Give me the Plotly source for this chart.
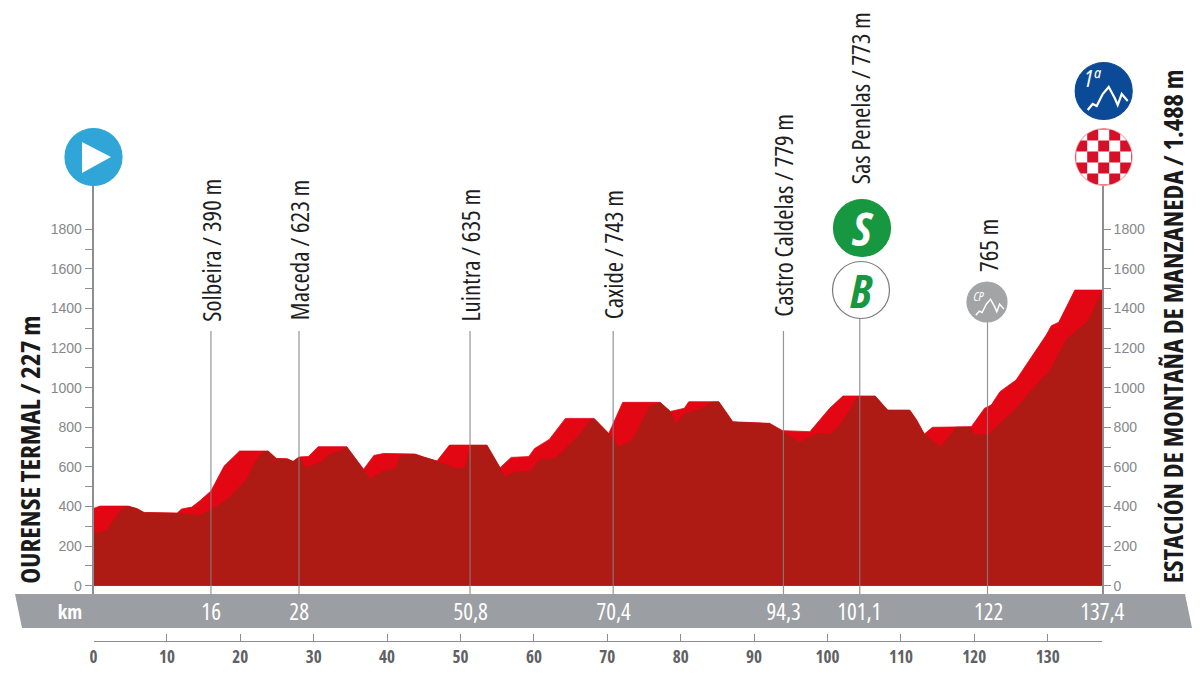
import numpy as np
import plotly.graph_objects as go

# top of the profile, km and metres
top_km = [0, 0.9, 4.7, 5.9, 6.9, 11.4, 12, 13.4, 14.5, 16, 17.8, 19.9, 23.8, 24.9, 26.4, 27.2, 28, 29.3, 30.6,
          34.5, 36.8, 38.2, 39.5, 41.8, 43.8, 44.9, 46.8, 48.5, 53.6, 55.4, 56.9, 59.3, 60.1, 62.1, 64.3, 68.2,
          70.2, 72.1, 77.2, 78.6, 80.5, 81.1, 85.2, 87.1, 89.8, 92.1, 93.9, 97.6, 100.3, 102.1, 106.5, 108.2,
          111.2, 112.1, 113.2, 114.3, 119.6, 121.4, 122.3, 123.5, 125.7, 127.5, 129.8, 130.5, 131.5, 133.7, 137.4]
top_elev = [390, 402, 402, 390, 370, 367, 387, 397, 429, 478, 604, 680, 680, 643, 641, 628, 650, 653, 702,
            702, 588, 658, 668, 665, 665, 651, 630, 710, 710, 596, 648, 652, 693, 739, 845, 845,
            769, 926, 926, 880, 896, 929, 929, 828, 823, 820, 783, 778, 896, 958, 958, 887,
            887, 840, 766, 800, 803, 896, 912, 980, 1039, 1140, 1266, 1313, 1330, 1493, 1493]

# where the dark fill starts, the bright red band sits between this and the top
dark_km = [0, 1.8, 3.8, 4.7, 5.9, 6.9, 11.4, 14.5, 16.3, 18.6, 20.9, 22, 23.2, 23.8, 24.9, 26.4, 27.2, 28, 28.9,
           30.8, 32, 34.3, 34.5, 36.8, 37.7, 39.5, 41.1, 41.8, 43.8, 44.9, 46.8, 49.4, 50.6, 51.4, 53.6, 55.4,
           56, 57.5, 59.6, 60.7, 63, 65.7, 67.8, 68.2, 70.2, 71.6, 73.4, 75.7, 77.2, 78.6, 79.4, 80.5, 83, 84.2,
           85.2, 87.1, 89.8, 92.1, 93.9, 96.2, 98.6, 100.4, 102, 104.1, 106.5, 108.2, 111.2, 112.1, 113.2, 115.4,
           117.6, 119.6, 120, 121.8, 123.5, 125.7, 128, 130.3, 132.6, 135.4, 137.4]
dark_elev = [264, 281, 390, 402, 390, 370, 367, 357, 390, 449, 542, 626, 680, 680, 643, 641, 628, 650, 598,
             621, 660, 693, 702, 588, 542, 581, 593, 660, 665, 651, 630, 593, 598, 710, 710, 596,
             550, 576, 581, 635, 648, 744, 840, 845, 769, 702, 736, 904, 926, 880, 820, 870, 896, 929,
             929, 828, 823, 820, 778, 724, 770, 766, 828, 955, 958, 887, 887, 840, 766, 702,
             803, 803, 766, 761, 820, 896, 997, 1089, 1249, 1333, 1485]

elev_ticks = list(range(0, 1900, 100))
elev_text = [str(v) if v % 200 == 0 else "" for v in elev_ticks]
km_ticks = list(range(0, 140, 10)) + [137.4]
km_text = ["<b>{}</b>".format(v) for v in range(0, 140, 10)] + [""]

# places: name, position along the axis, middle of the text, top of the leader
place_names = ["Solbeira / 390 m", "Maceda / 623 m", "Luintra / 635 m", "Caxide / 743 m", "Castro Caldelas / 779 m",
               "Sas Penelas / 773 m", "765 m"]
place_km = [16, 28, 51.3, 70.8, 94, 104.4, 121.8]
place_mid = [250, 250, 255, 255, 215, 98, 245]
leader_top = [331, 331, 331, 331, 331, 318, 322]

band_labels = ["16", "28", "50,8", "70,4", "94,3", "101,1", "122", "137,4"]
band_km = [16, 28, 51.3, 70.8, 94, 104.4, 121.9, 137.4]

W, H = 1200, 675
DARK = "#AE1A14"
BRIGHT = "#E30613"
GREY = "#8C8E91"
NARROW = "Open Sans"

def fx(px):
    return px / W

def fy(py):
    return 1 - py / H

# pixel mapping of the axes
x0_px, x1_px = 93.5, 1102
y_base = 585.7
px_per_m = 0.198
y_low = (y_base - 594) / px_per_m
y_high = (y_base - 186) / px_per_m

def elev_at(py):
    return (y_base - py) / px_per_m

fig = go.Figure()
fig.add_trace(go.Scatter(x=top_km, y=top_elev, mode="lines", line=dict(color=BRIGHT, width=0.8),
                         fill="tozeroy", fillcolor=BRIGHT, hoverinfo="skip"))
fig.add_trace(go.Scatter(x=dark_km, y=dark_elev, mode="lines", line=dict(color=DARK, width=0),
                         fill="tozeroy", fillcolor=DARK, hoverinfo="skip"))

# leaders from the labels down to the km band
lx, ly = [], []
for km, t in zip(place_km, leader_top):
    lx += [km, km, None]
    ly += [y_low, elev_at(t), None]
fig.add_trace(go.Scatter(x=lx, y=ly, mode="lines", line=dict(color="rgba(130,130,132,0.85)", width=1.2),
                         yaxis="y2", cliponaxis=False, hoverinfo="skip"))

shapes = []

def disc(cx, cy, r, fill, edge=None):
    shapes.append(dict(type="circle", xref="paper", yref="paper", x0=fx(cx - r), x1=fx(cx + r), y0=fy(cy + r), y1=fy(cy - r),
                       fillcolor=fill, line=dict(color=edge or fill, width=1.2)))

# grey km band
shapes.append(dict(type="path", xref="paper", yref="paper", layer="below", line=dict(width=0), fillcolor="#9B9EA2",
                   path="M {} {} L {} {} L {} {} L {} {} Z".format(fx(15), fy(594), fx(1185), fy(594),
                                                                    fx(1192), fy(628), fx(22), fy(628))))

disc(93.5, 157, 28.5, "#2FA5D8")
shapes.append(dict(type="path", xref="paper", yref="paper", line=dict(width=0), fillcolor="white",
                   path="M {} {} L {} {} L {} {} Z".format(fx(82), fy(142), fx(111), fy(157), fx(82), fy(173))))
disc(862, 228, 28.5, "#17973F")
disc(861, 290, 28.5, "#FFFFFF", "#77797C")
disc(987, 302, 20, "#A3A4A6")
disc(1103.7, 91, 28.5, "#0B4A96")
disc(1103.7, 157, 28.5, "#FFFFFF", "#F0B0B0")

# checkered finish, red squares pulled back onto the circle
cx, cy, r, cell = 1103.7, 157, 28.2, 11
for i in range(-3, 4):
    for j in range(-3, 4):
        if (i + j) % 2 == 0:
            continue
        xs = np.linspace((i - 0.5) * cell, (i + 0.5) * cell, 8)
        ys = np.linspace((j - 0.5) * cell, (j + 0.5) * cell, 8)
        pts = [(a, ys[0]) for a in xs] + [(xs[-1], b) for b in ys] + [(a, ys[-1]) for a in xs[::-1]] + [(xs[0], b) for b in ys[::-1]]
        if min(np.hypot(a, b) for a, b in pts) >= r:
            continue
        out = []
        for a, b in pts:
            d = max(np.hypot(a, b), 0.01)
            k = min(1, r / d)
            out.append((fx(cx + a * k), fy(cy + b * k)))
        path = "M " + " L ".join("{:.5f} {:.5f}".format(p, q) for p, q in out) + " Z"
        shapes.append(dict(type="path", xref="paper", yref="paper", line=dict(width=0), fillcolor="#D7102A", path=path))

# little mountain drawn on the blue and the grey badge
peak = [(-16, 19), (-11, 13), (-7, 15), (-1, 3), (5, -4), (11, 7), (14, 14), (18, 3), (24, 10)]
for ccx, ccy, scale, w in [(1103.7, 91, 1.0, 2.2), (987, 302, 0.7, 1.5)]:
    path = "M " + " L ".join("{:.5f} {:.5f}".format(fx(ccx + a * scale), fy(ccy + b * scale)) for a, b in peak)
    shapes.append(dict(type="path", xref="paper", yref="paper", line=dict(color="white", width=w), path=path))

annotations = []

def note(text, x, y, size, color, xref="paper", angle=0, family=NARROW, xanchor="center", yanchor="middle"):
    annotations.append(dict(text=text, x=x, y=y, xref=xref, yref="paper", showarrow=False, textangle=angle,
                            font=dict(family=family, size=size, color=color), xanchor=xanchor, yanchor=yanchor))

# rotated labels, placed by their middle because the narrow cut is measured as the wide one
for name, km, mid in zip(place_names, place_km, place_mid):
    note(name, km, fy(mid), 25, "#1E1E1E", xref="x", angle=-90)

note("<b>OURENSE TERMAL / 227 m</b>", fx(29), fy(450), 27, "#1A1A1A", angle=-90)
note("<b>ESTACIÓN DE MONTAÑA DE MANZANEDA / 1.488 m</b>", fx(1173), fy(327), 26.5, "#1A1A1A", angle=-90)

note("<b>km</b>", fx(70), fy(611), 20, "white")
for lab, km in zip(band_labels, band_km):
    note(lab, km, fy(611), 23, "white", xref="x")

note("<b><i>S</i></b>", fx(862), fy(228), 46, "white")
note("<b><i>B</i></b>", fx(861), fy(290), 46, "#17973F")
note("<i>1ª</i>", fx(1092), fy(77), 24, "white")
note("<i>CP</i>", fx(979), fy(296), 13, "white")

fig.update_layout(
    width=W, height=H,
    margin=dict(l=0, r=0, t=0, b=0, autoexpand=False),
    paper_bgcolor="white", plot_bgcolor="white",
    showlegend=False,
    shapes=shapes, annotations=annotations,
    xaxis=dict(domain=[fx(x0_px), fx(x1_px)], range=[0, 137.4], anchor="free", position=fy(641),
               tickmode="array", tickvals=km_ticks, ticktext=km_text, ticks="inside", ticklen=7, tickwidth=1.2,
               tickcolor=GREY, showline=True, linecolor=GREY, linewidth=1.2, showgrid=False, zeroline=False,
               tickfont=dict(family=NARROW, size=17, color="#5F6164")),
    yaxis=dict(domain=[fy(594), fy(186)], range=[y_low, y_high], anchor="x", side="left",
               tickmode="array", tickvals=elev_ticks, ticktext=elev_text, ticks="outside", ticklen=7, tickwidth=1.2,
               tickcolor=GREY, showline=True, linecolor=GREY, linewidth=1.6, showgrid=False, zeroline=False,
               tickfont=dict(family="Liberation Sans", size=14, color="#85878A")),
    yaxis2=dict(domain=[fy(594), fy(186)], range=[y_low, y_high], anchor="x", side="right", overlaying="y",
                tickmode="array", tickvals=elev_ticks, ticktext=elev_text, ticks="outside", ticklen=7, tickwidth=1.2,
                tickcolor=GREY, showline=True, linecolor=GREY, linewidth=1.6, showgrid=False, zeroline=False,
                tickfont=dict(family="Liberation Sans", size=14, color="#85878A")),
)

# drop the page margin and ask for the narrow cut of the font where it has one
fixes = """
document.body.style.margin = '0';
var st = document.createElement('style');
st.textContent = '.annotation-text, .xtick text {font-stretch: 78%;}';
document.head.appendChild(st);
"""
fig.write_html("out.html", post_script=fixes, config=dict(displayModeBar=False))
